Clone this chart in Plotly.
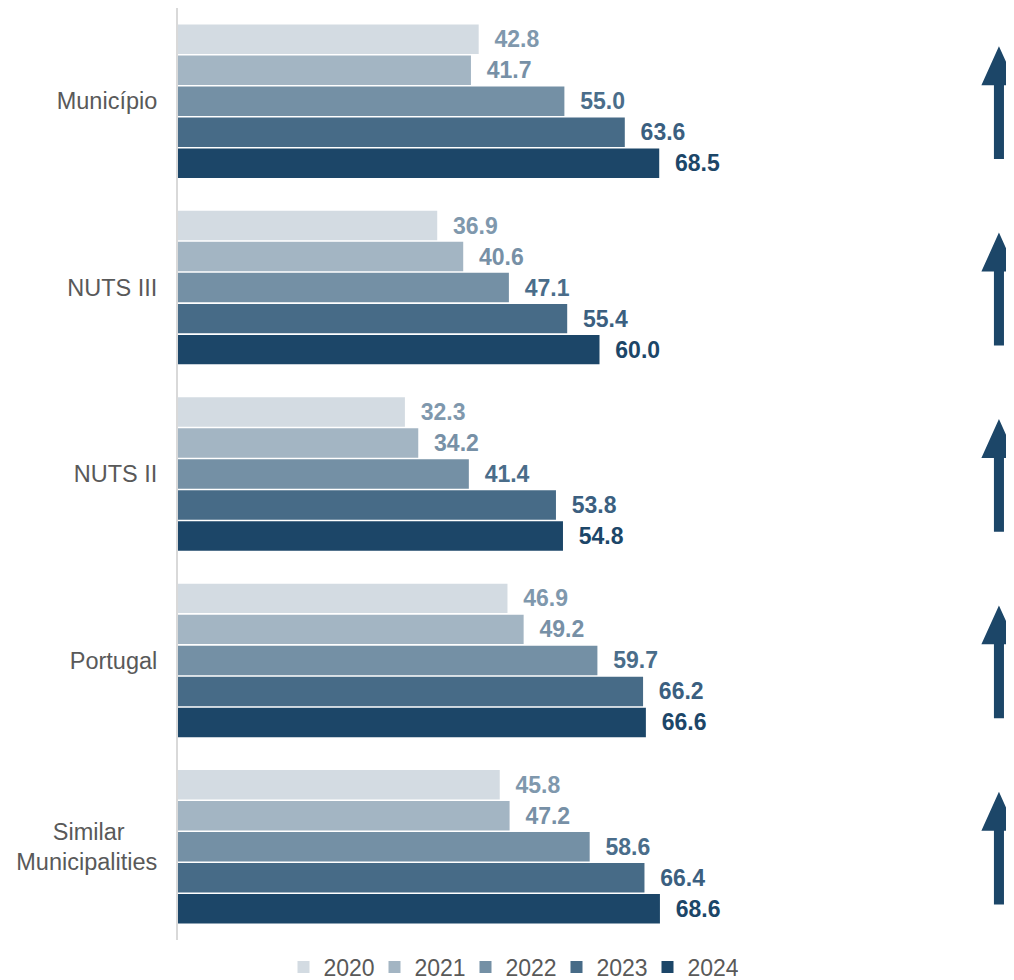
import plotly.graph_objects as go

categories = ["Município", "NUTS III", "NUTS II", "Portugal", "Similar Municipalities"]
tick_labels = ["Município", "NUTS III", "NUTS II", "Portugal",
               "Similar" + "\u00a0" * 5 + "<br>Municipalities"]
years = ["2020", "2021", "2022", "2023", "2024"]
values = {
    "2020": [42.8, 36.9, 32.3, 46.9, 45.8],
    "2021": [41.7, 40.6, 34.2, 49.2, 47.2],
    "2022": [55.0, 47.1, 41.4, 59.7, 58.6],
    "2023": [63.6, 55.4, 53.8, 66.2, 66.4],
    "2024": [68.5, 60.0, 54.8, 66.6, 68.6],
}
bar_colors = ["#d3dbe2", "#a3b5c3", "#7490a5", "#476b87", "#1c4668"]
label_colors = ["#7f98ad", "#7790a6", "#4a6d8a", "#3b5f80", "#1c4668"]

FONT = "Liberation Sans, Arial, sans-serif"

fig = go.Figure()
for yr, bc, lc in zip(years, bar_colors, label_colors):
    fig.add_trace(go.Bar(
        y=categories, x=values[yr], name=yr, orientation="h",
        marker=dict(color=bc, line=dict(width=0)),
        text=[f"\u00a0\u00a0{v:.1f}" for v in values[yr]],
        textposition="outside", constraintext="none", cliponaxis=False,
        textfont=dict(family=FONT, size=23, color=lc, weight="bold"),
        hoverinfo="skip",
    ))

# trend arrows (one per category)
shapes = []
n = len(categories)
xc, shaft, head = 0.982, 0.006, 0.021
for i in range(n):
    c = 1 - (i + 0.5) / n
    band = 1 / n
    top = c + 0.295 * band
    base = c + 0.086 * band
    bot = c - 0.31 * band
    path = (f"M {xc - shaft} {bot} L {xc - shaft} {base} L {xc - head} {base} "
            f"L {xc} {top} L {xc + head} {base} L {xc + shaft} {base} L {xc + shaft} {bot} Z")
    shapes.append(dict(type="path", xref="paper", yref="paper", path=path,
                       fillcolor="#1c4668", line=dict(width=0)))

fig.update_layout(
    template="none",
    width=1006, height=972,
    margin=dict(l=170, r=0, t=0, b=40, autoexpand=False),
    paper_bgcolor="white", plot_bgcolor="white",
    barmode="group", bargap=0.168, bargroupgap=0.05,
    font=dict(family=FONT, color="#595959"),
    xaxis=dict(range=[0, 119], visible=False, showgrid=False, zeroline=False),
    yaxis=dict(autorange="reversed", showgrid=False, zeroline=False,
               showline=True, linecolor="#d9d9d9", linewidth=2,
               ticks="", ticklabelstandoff=14,
               tickmode="array", tickvals=categories, ticktext=tick_labels,
               tickfont=dict(size=23.5, color="#595959")),
    showlegend=True,
    legend=dict(orientation="h", xref="container", yref="container",
                x=0.5, xanchor="center", y=0.0134, yanchor="middle",
                font=dict(size=23, color="#595959"),
                entrywidth=46, entrywidthmode="pixels",
                bgcolor="rgba(0,0,0,0)"),
    shapes=shapes,
)

fig.write_html("out.html")
